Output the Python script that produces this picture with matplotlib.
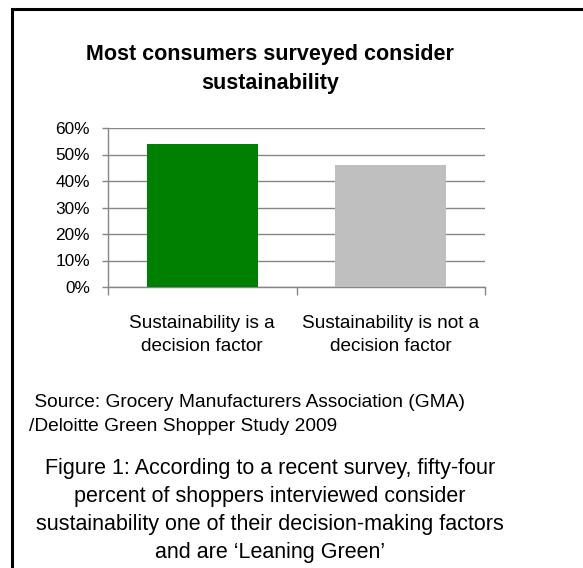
import matplotlib
matplotlib.use("Agg")
import matplotlib.pyplot as plt
import matplotlib.transforms as mtransforms
from matplotlib.patches import Rectangle
from matplotlib.ticker import FuncFormatter

plt.rcParams["font.family"] = ["Liberation Sans", "DejaVu Sans"]

GRID = "#868686"

categories = ["Sustainability is a\ndecision factor", "Sustainability is not a\ndecision factor"]
shares = [54, 46]
bar_colors = ["#008000", "#bfbfbf"]
yticks = [0, 10, 20, 30, 40, 50, 60]

title = "Most consumers surveyed consider\nsustainability"
source = " Source: Grocery Manufacturers Association (GMA)\n/Deloitte Green Shopper Study 2009"
caption = ("Figure 1: According to a recent survey, fifty-four\n"
           "percent of shoppers interviewed consider\n"
           "sustainability one of their decision-making factors\n"
           "and are \u2018Leaning Green\u2019")

W, H = 583, 568
fig = plt.figure(figsize=(W / 100, H / 100), dpi=100, facecolor="white")

# outer frame (left and top edges visible, rest runs off the picture)
fig.add_artist(Rectangle((12 / W, -0.05), 1.2, (H - 9) / H + 0.05,
                         transform=fig.transFigure, fill=False,
                         edgecolor="black", linewidth=2.2))

ax = fig.add_axes([108 / W, 1 - 287 / H, (485 - 108) / W, (287 - 128) / H])
ax.bar(range(len(categories)), shares, width=0.59, color=bar_colors, zorder=3)
ax.set_xlim(-0.5, len(categories) - 0.5)
ax.set_ylim(0, 60)
ax.set_yticks(yticks)
ax.yaxis.set_major_formatter(FuncFormatter(lambda v, _: f"{v:.0f}%"))
ax.yaxis.grid(True, color=GRID, linewidth=1.0, zorder=0)
ax.set_axisbelow(True)

# category boundaries get the ticks, labels sit under each bar
ax.set_xticks([-0.5, 0.5, 1.5])
ax.set_xticklabels(["", "", ""])
ax.tick_params(axis="x", length=6, color=GRID, width=1.0)
ax.tick_params(axis="y", length=4, color=GRID, width=1.0, labelsize=12.4, pad=9)
lab_tr = mtransforms.blended_transform_factory(ax.transData, fig.transFigure)
for i, lab in enumerate(categories):
    ax.text(i, 1 - 315 / H, lab, transform=lab_tr,
            ha="center", va="top", fontsize=13.7, linespacing=1.48)

for s in ["top", "right"]:
    ax.spines[s].set_visible(False)
for s in ["left", "bottom"]:
    ax.spines[s].set_color(GRID)
    ax.spines[s].set_linewidth(1.0)

fig.text(270 / W, 1 - 44 / H, title, ha="center", va="top",
         fontsize=15.5, fontweight="bold", linespacing=1.47)
fig.text(29 / W, 1 - 394 / H, source, ha="left", va="top",
         fontsize=13.8, linespacing=1.55)
fig.text(270 / W, 1 - 458 / H, caption, ha="center", va="top",
         fontsize=15.5, linespacing=1.43)

fig.savefig("out.png", dpi=100, facecolor="white")
